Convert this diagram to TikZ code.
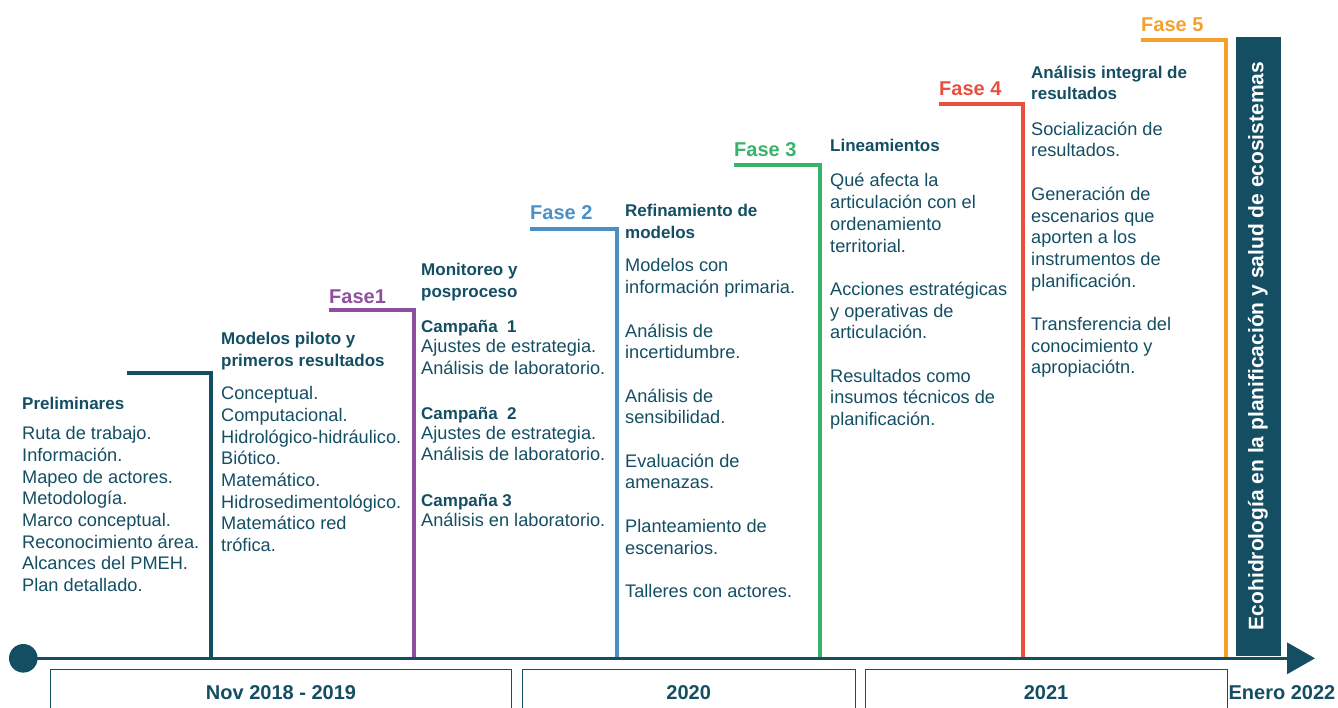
\documentclass[tikz,border=0pt]{standalone}
\usepackage{fontspec}
\setmainfont{Liberation Sans}
\usetikzlibrary{arrows.meta}
\definecolor{teal1}{HTML}{144E63}
\definecolor{fpurple}{HTML}{8E4F9F}
\definecolor{fblue}{HTML}{4A90C6}
\definecolor{fgreen}{HTML}{38B36A}
\definecolor{fred}{HTML}{E94E3E}
\definecolor{forange}{HTML}{F4A12C}
\newcommand\tstr{\rule{0pt}{16pt}}
\begin{document}
\begin{tikzpicture}[x=1pt,y=-1pt,
  body/.style={anchor=north west, inner sep=0pt, align=left, text=teal1, font=\fontsize{18.2}{21.7}\selectfont},
  head/.style={anchor=north west, inner sep=0pt, align=left, text=teal1, font=\fontsize{17}{21.7}\selectfont\bfseries},
  fase/.style={anchor=base west, inner sep=0pt, font=\fontsize{20}{24}\selectfont\bfseries},
  stepline/.style={line width=4pt},
  yearbox/.style={draw=teal1, line width=1pt},
  yearlbl/.style={text=teal1, anchor=base, inner sep=0pt, font=\fontsize{20}{24}\selectfont\bfseries}]
\useasboundingbox (0,0) rectangle (1338,707);
\clip (0,0) rectangle (1338,707);

% step lines
\draw[stepline, teal1]   (127,373) -| (210.5,657);
\draw[stepline, fpurple] (328.5,309.5) -| (413.5,657);
\draw[stepline, fblue]   (530,228.5) -| (617,657);
\draw[stepline, fgreen]  (733.5,165) -| (820,657);
\draw[stepline, fred]    (939,104) -| (1023,657);
\draw[stepline, forange] (1140.5,40) -| (1226,657);

% side bar
\fill[teal1] (1236,37) rectangle (1281,656);
\node[rotate=90, anchor=base, inner sep=0pt, text=white, font=\fontsize{21}{24}\selectfont\bfseries] (bar) at (1263.3,346) {Ecohidrología en la planificación y salud de ecosistemas};

% axis
\node[circle, fill=teal1, minimum size=28.6pt, inner sep=0pt] (start) at (23.3,658.3) {};
\coordinate (end) at (1315,658.3);
\draw[teal1, line width=3.5pt, -{Triangle[length=28pt,width=31pt]}] (start.center) -- (end);

% year boxes
\draw[yearbox] (50.5,712) |- (511.5,669.5) -- (511.5,712);
\draw[yearbox] (522.5,712) |- (855,669.5) -- (855,712);
\draw[yearbox] (865,712) |- (1227.5,669.5) -- (1227.5,712);
\node[yearlbl] (y1) at (281,699) {Nov 2018 - 2019};
\node[yearlbl] (y2) at (688.7,699) {2020};
\node[yearlbl] (y3) at (1046,699) {2021};
\node[yearlbl] (y4) at (1282,699) {Enero 2022};

% phase labels
\node[fase, text=fpurple] (f1) at (329,303.3) {Fase1};
\node[fase, text=fblue]   (f2) at (530,219.5) {Fase 2};
\node[fase, text=fgreen]  (f3) at (734,156) {Fase 3};
\node[fase, text=fred]    (f4) at (939,95) {Fase 4};
\node[fase, text=forange] (f5) at (1141,31.7) {Fase 5};

% Preliminares
\node[head] (h0) at (22,393.5) {\tstr Preliminares};
\node[body] (b0) at (22,423.5) {\tstr Ruta de trabajo.\\Información.\\Mapeo de actores.\\Metodología.\\Marco conceptual.\\Reconocimiento área.\\Alcances del PMEH.\\Plan detallado.};

% Modelos piloto
\node[head] (h1) at (221,328.5) {\tstr Modelos piloto y\\primeros resultados};
\node[body] (b1) at (221,383.5) {\tstr Conceptual.\\Computacional.\\Hidrológico-hidráulico.\\Biótico.\\Matemático.\\Hidrosedimentológico.\\Matemático red\\trófica.};

% Monitoreo
\node[head] (h2) at (421,259.5) {\tstr Monitoreo y\\posproceso};
\node[head] (c1) at (421,316.7) {\tstr Campaña~~1};
\node[body] (b2a) at (421,336.5) {\tstr Ajustes de estrategia.\\Análisis de laboratorio.};
\node[head] (c2) at (421,403.3) {\tstr Campaña~~2};
\node[body] (b2b) at (421,423) {\tstr Ajustes de estrategia.\\Análisis de laboratorio.};
\node[head] (c3) at (421,490) {\tstr Campaña 3};
\node[body] (b2c) at (421,510.7) {\tstr Análisis en laboratorio.};

% Refinamiento
\node[head] (h3) at (625,200.7) {\tstr Refinamiento de\\modelos};
\node[body] (b3) at (625,255.7) {\tstr Modelos con\\información primaria.\\[21.7pt]Análisis de\\incertidumbre.\\[21.7pt]Análisis de\\sensibilidad.\\[21.7pt]Evaluación de\\amenazas.\\[21.7pt]Planteamiento de\\escenarios.\\[21.7pt]Talleres con actores.};

% Lineamientos
\node[head] (h4) at (830,135.7) {\tstr Lineamientos};
\node[body] (b4) at (830,170.7) {\tstr Qué afecta la\\articulación con el\\ordenamiento\\territorial.\\[21.7pt]Acciones estratégicas\\y operativas de\\articulación.\\[21.7pt]Resultados como\\insumos técnicos de\\planificación.};

% Analisis integral
\node[head] (h5) at (1031,62) {\tstr Análisis integral de\\resultados};
\node[body] (b5) at (1031,119) {\tstr Socialización de\\resultados.\\[21.7pt]Generación de\\escenarios que\\aporten a los\\instrumentos de\\planificación.\\[21.7pt]Transferencia del\\conocimiento y\\apropiaciótn.};
\end{tikzpicture}
\end{document}
